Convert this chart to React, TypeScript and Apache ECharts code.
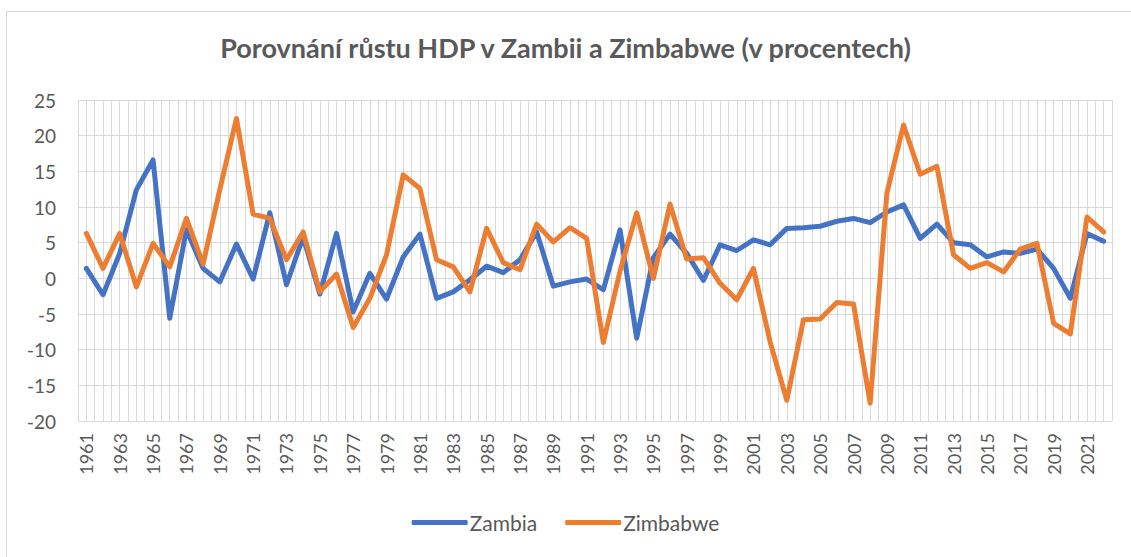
import React, { useEffect, useRef } from "react";
import * as echarts from "echarts";

const years: string[] = [
  "1961","1962","1963","1964","1965","1966","1967","1968","1969","1970",
  "1971","1972","1973","1974","1975","1976","1977","1978","1979","1980",
  "1981","1982","1983","1984","1985","1986","1987","1988","1989","1990",
  "1991","1992","1993","1994","1995","1996","1997","1998","1999","2000",
  "2001","2002","2003","2004","2005","2006","2007","2008","2009","2010",
  "2011","2012","2013","2014","2015","2016","2017","2018","2019","2020",
  "2021","2022",
];

const zambia: number[] = [
  1.4, -2.3, 3.5, 12.4, 16.6, -5.6, 6.8, 1.4, -0.5, 4.8,
  -0.1, 9.2, -0.9, 5.8, -2.2, 6.3, -4.7, 0.7, -2.9, 3.0,
  6.2, -2.8, -1.9, -0.2, 1.7, 0.8, 2.6, 6.5, -1.1, -0.5,
  -0.1, -1.6, 6.8, -8.4, 2.9, 6.2, 3.5, -0.3, 4.7, 3.9,
  5.4, 4.7, 7.0, 7.1, 7.3, 8.0, 8.4, 7.8, 9.3, 10.3,
  5.6, 7.6, 5.0, 4.7, 3.0, 3.7, 3.5, 4.1, 1.4, -2.8,
  6.3, 5.2,
];

const zimbabwe: number[] = [
  6.3, 1.4, 6.3, -1.2, 4.9, 1.6, 8.4, 2.0, 12.4, 22.4,
  9.0, 8.4, 2.6, 6.5, -1.9, 0.6, -6.9, -2.8, 3.3, 14.5,
  12.6, 2.6, 1.6, -1.9, 7.0, 2.2, 1.2, 7.6, 5.1, 7.1,
  5.6, -9.0, 1.0, 9.2, 0.0, 10.4, 2.7, 2.9, -0.7, -3.0,
  1.4, -8.9, -17.1, -5.8, -5.7, -3.4, -3.6, -17.5, 11.9, 21.5,
  14.6, 15.7, 3.3, 1.4, 2.2, 0.9, 4.1, 4.9, -6.3, -7.8,
  8.6, 6.5,
];

const seriesNames: string[] = ["Zambia", "Zimbabwe"];
const titleText = "Porovnání růstu HDP v Zambii a Zimbabwe (v procentech)";

export default function App() {
  const ref = useRef<HTMLDivElement>(null);
  useEffect(() => {
    if (!ref.current) return;
    const chart = echarts.init(ref.current, null, { renderer: "svg" });
    const font = "Lato, 'Open Sans', sans-serif";
    const grey = "#595959";
    const gridColor = "#D9D9D9";
    chart.setOption({
      animation: false,
      backgroundColor: "#ffffff",
      textStyle: { fontFamily: font },
      title: {
        text: titleText,
        left: "center",
        top: 29,
        textStyle: { fontFamily: font, fontSize: 27, fontWeight: "bold", color: grey },
      },
      graphic: [
        {
          type: "rect",
          shape: { x: 6.5, y: 11.5, width: 1140, height: 560 },
          style: { fill: "none", stroke: gridColor, lineWidth: 1 },
          silent: true,
          z: -10,
        },
      ],
      legend: {
        data: seriesNames,
        bottom: 19,
        left: "center",
        icon: "roundRect",
        itemWidth: 56,
        itemHeight: 5,
        itemGap: 28,
        textStyle: { fontFamily: font, fontSize: 21, color: grey, padding: [0, 0, 0, -3] },
      },
      grid: { left: 78, right: 19, top: 100, bottom: 136, containLabel: false },
      xAxis: [
        {
          type: "category",
          data: years,
          boundaryGap: true,
          axisLine: { show: false },
          axisTick: { show: false },
          splitLine: { show: false },
          axisLabel: {
            interval: 1,
            rotate: 90,
            margin: 12,
            fontFamily: font,
            fontSize: 18,
            color: grey,
          },
        },
        {
          type: "value",
          min: 0,
          max: years.length * 2,
          interval: 1,
          position: "top",
          axisLine: { show: false },
          axisTick: { show: false },
          axisLabel: { show: false },
          splitLine: { show: true, lineStyle: { color: gridColor, width: 1 } },
        },
      ],
      yAxis: {
        type: "value",
        min: -20,
        max: 25,
        interval: 5,
        axisLine: { show: false },
        axisTick: { show: false },
        axisLabel: { fontFamily: font, fontSize: 19, color: grey, margin: 22 },
        splitLine: { show: true, lineStyle: { color: gridColor, width: 1 } },
      },
      series: [
        {
          name: seriesNames[0],
          type: "line",
          xAxisIndex: 0,
          data: zambia,
          showSymbol: false,
          symbol: "none",
          color: "#4472C4",
          lineStyle: { width: 5, color: "#4472C4", cap: "round", join: "round" },
          z: 3,
        },
        {
          name: seriesNames[1],
          type: "line",
          xAxisIndex: 0,
          data: zimbabwe,
          showSymbol: false,
          symbol: "none",
          color: "#ED7D31",
          lineStyle: { width: 5, color: "#ED7D31", cap: "round", join: "round" },
          z: 4,
        },
      ],
    });
    return () => chart.dispose();
  }, []);
  return (
    <div
      ref={ref}
      style={{ position: "absolute", left: 0, top: 0, width: 1131, height: 557 }}
    />
  );
}
